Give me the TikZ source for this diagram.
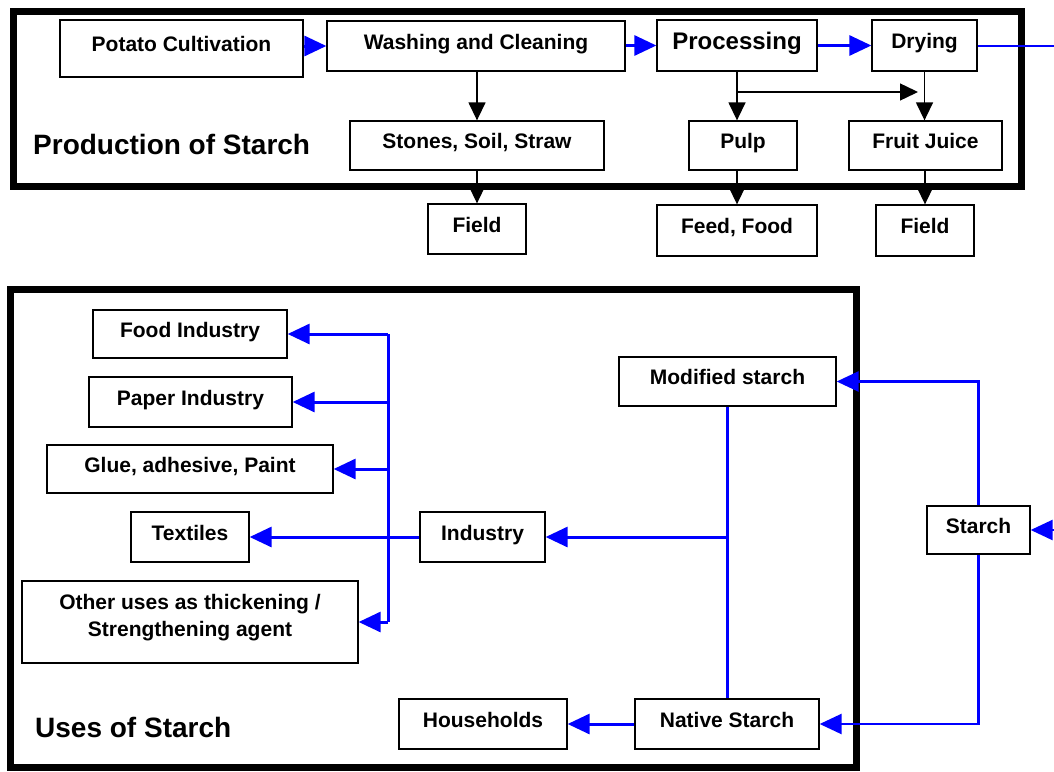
\documentclass[tikz,border=0pt]{standalone}
\usepackage{fontspec}
\setmainfont{Liberation Sans}
\usetikzlibrary{arrows.meta}
\definecolor{pblue}{RGB}{0,0,255}
\begin{document}
\begin{tikzpicture}[x=1pt,y=-1pt,
  box/.style={draw=black, line width=1.3pt, fill=white, inner sep=0pt, text height=15pt, text depth=9pt, font=\fontsize{21}{25}\selectfont\bfseries},
  frame/.style={draw=black, line width=7pt},
  title/.style={anchor=west, inner sep=0pt, font=\fontsize{28}{32}\selectfont\bfseries},
  barrow/.style={draw=black, line width=1.4pt, -{Triangle[length=18pt,width=17pt]}},
  uarrow/.style={draw=pblue, line width=3pt, -{Triangle[length=22pt,width=20pt]}},
  uarrowthin/.style={draw=pblue, line width=2.5pt, -{Triangle[length=22pt,width=20pt]}},
  uline/.style={draw=pblue, line width=3pt},
  ulinethin/.style={draw=pblue, line width=2.5pt}]
\useasboundingbox (0,0) rectangle (1054,771);
% frames
\draw[frame] (13,11) rectangle (1021,186);
\draw[frame] (10,289) rectangle (856,767);
% titles
\node[title] (ptitle) at (33,144) {Production of Starch};
\node[title] (utitle) at (35,727) {Uses of Starch};
% top nodes
\node[box, minimum width=243, minimum height=57] (pc) at (181.5,48.5) {Potato Cultivation};
\node[box, minimum width=298, minimum height=50] (wash) at (476,46) {Washing and Cleaning};
\node[box, minimum width=160, minimum height=51, text height=17pt, text depth=10pt, font=\fontsize{24}{28}\selectfont\bfseries] (proc) at (737,45.5) {Processing};
\node[box, minimum width=105, minimum height=51] (dry) at (924.5,45.5) {Drying};
\node[box, minimum width=254, minimum height=49] (stones) at (477,145.5) {Stones, Soil, Straw};
\node[box, minimum width=108, minimum height=49] (pulp) at (743,145.5) {Pulp};
\node[box, minimum width=153, minimum height=49] (juice) at (925.5,145.5) {Fruit Juice};
\node[box, minimum width=98, minimum height=50] (field1) at (477,229) {Field};
\node[box, minimum width=160, minimum height=51] (feed) at (737,230.5) {Feed, Food};
\node[box, minimum width=98, minimum height=51] (field2) at (925,230.5) {Field};
% top connectors
\draw[uarrow] (pc.east |- wash.west) -- (wash.west);
\draw[uarrow] (wash.east |- proc.west) -- (proc.west);
\draw[uarrow] (proc.east) -- (dry.west);
\coordinate (dout) at (1054,45.5);
\draw[pblue, line width=2pt] (dry.east) -- (dout);
\draw[barrow] (wash.south -| stones.north) -- (stones.north);
\draw[barrow] (stones.south) -- (field1.north);
\draw[barrow] (proc.south) -- (proc.south |- pulp.north);
\coordinate (branch) at (737,92);
\coordinate (branchend) at (918,92);
\draw[barrow] (branch) -- (branchend);
\draw[barrow] (dry.south) -- (dry.south |- juice.north);
\draw[barrow] (feed.north |- pulp.south) -- (feed.north);
\draw[barrow] (field2.north |- juice.south) -- (field2.north);
% bottom nodes
\node[box, minimum width=194, minimum height=48] (food) at (190,334) {Food Industry};
\node[box, minimum width=203, minimum height=50] (paper) at (190.5,402) {Paper Industry};
\node[box, minimum width=286, minimum height=48] (glue) at (190,469) {Glue, adhesive, Paint};
\node[box, minimum width=118, minimum height=50] (textiles) at (190,537) {Textiles};
\node[box, minimum width=336, minimum height=82] (other) at (190,622) {\raisebox{-11.5pt}{\begin{tabular}[b]{@{}c@{}}Other uses as thickening /\\[2pt]Strengthening agent\end{tabular}}};
\node[box, minimum width=125, minimum height=50] (industry) at (482.5,537) {Industry};
\node[box, minimum width=217, minimum height=49] (modified) at (727.5,381.5) {Modified starch};
\node[box, minimum width=184, minimum height=50] (native) at (727,724) {Native Starch};
\node[box, minimum width=168, minimum height=50] (households) at (483,724) {Households};
\node[box, minimum width=103, minimum height=48] (starch) at (978.5,530) {Starch};
% bottom connectors
\coordinate (bus) at (388,334);
\coordinate (busend) at (388,622);
\draw[uline] (bus) -- (busend);
\draw[uarrow] (bus) -- (food.east);
\draw[uarrow] (bus |- paper.east) -- (paper.east);
\draw[uarrow] (bus |- glue.east) -- (glue.east);
\draw[uarrow] (busend) -- (other.east);
\draw[uarrow] (industry.west) -- (textiles.east);
\draw[ulinethin] (modified.south) -- (modified.south |- native.north);
\draw[uarrow] (modified.south |- industry.east) -- (industry.east);
\draw[uarrow] (native.west) -- (households.east);
\draw[uarrowthin] (starch.north) -- (starch.north |- modified.east) -- (modified.east);
\draw[uarrowthin] (starch.south) -- (starch.south |- native.east) -- (native.east);
\coordinate (sin) at (1054,530);
\draw[uarrowthin] (sin) -- (starch.east);
\end{tikzpicture}
\end{document}
